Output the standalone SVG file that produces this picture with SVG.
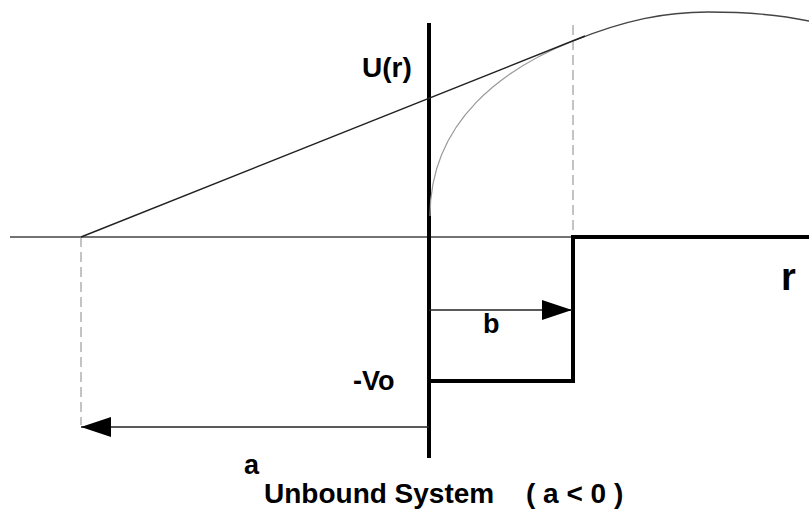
<svg xmlns="http://www.w3.org/2000/svg" width="809" height="513" viewBox="0 0 809 513">
<style>
.lbl{font-family:"Liberation Sans",Arial,sans-serif;font-weight:bold;fill:#000;}
.thick{stroke:#000;stroke-width:4;fill:none;}
.thin{stroke:#222;stroke-width:1.4;fill:none;}
.dash{stroke:#888;stroke-width:1;stroke-dasharray:10 5;fill:none;}
</style>
<defs>
<marker id="arr" markerUnits="userSpaceOnUse" markerWidth="32" markerHeight="22" refX="30" refY="10" orient="auto">
<path d="M0,0 L30,10 L0,20 Z" fill="#000"/>
</marker>
</defs>
<rect width="809" height="513" fill="#fff"/>
<g id="axes">
<line x1="10" y1="237" x2="809" y2="237" stroke="#444" stroke-width="1.4"/>
<line class="dash" x1="81" y1="237" x2="81" y2="425"/>
<line class="dash" x1="573" y1="25" x2="573" y2="237"/>
</g>
<g id="potential">
<polyline class="thick" points="429,381 573,381 573,237 809,237"/>
<line class="thick" x1="429" y1="23" x2="429" y2="458"/>
</g>
<g id="wavefunction">
<path d="M430,216 C430,120 505,68 573,41" stroke="#999" stroke-width="1.2" fill="none"/>
<path d="M573,41 C625,20 665,12 708,12 C745,12 780,15 809,21" stroke="#444" stroke-width="1.3" fill="none"/>
<line class="thin" x1="81" y1="237" x2="585" y2="36"/>
</g>
<g id="connectors">
<line class="thin" x1="429" y1="310" x2="572" y2="310" marker-end="url(#arr)"/>
<line class="thin" x1="429" y1="427" x2="81" y2="427" marker-end="url(#arr)"/>
</g>
<g id="labels">
<text class="lbl" x="362" y="77" font-size="28">U(r)</text>
<text class="lbl" x="353" y="390" font-size="27">-Vo</text>
<text class="lbl" x="483" y="333" font-size="27">b</text>
<text class="lbl" x="244" y="474" font-size="27">a</text>
<text class="lbl" x="781" y="290" font-size="38">r</text>
<text class="lbl" x="264" y="503" font-size="28">Unbound System</text>
<text class="lbl" x="526" y="503" font-size="28">( a &lt; 0 )</text>
</g>
</svg>
